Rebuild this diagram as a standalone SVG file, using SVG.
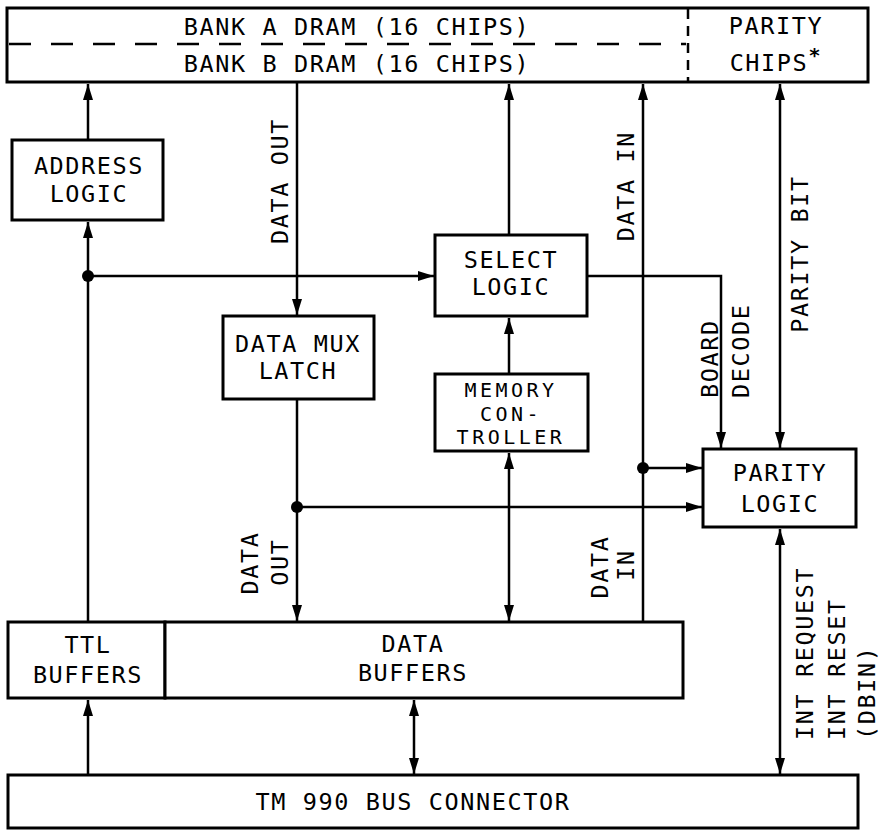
<svg xmlns="http://www.w3.org/2000/svg" width="884" height="832" viewBox="0 0 884 832">
<defs>
<marker id="ah" viewBox="0 0 16 10" refX="16" refY="5" markerWidth="16" markerHeight="10" markerUnits="userSpaceOnUse" orient="auto-start-reverse"><path d="M0,0 L16,5 L0,10 z" fill="#000"/></marker>
</defs>
<style>
.box{fill:#fff;stroke:#000;stroke-width:3}
.ln{fill:none;stroke:#000;stroke-width:2.5}
.ar{marker-end:url(#ah)}
.bi{marker-start:url(#ah);marker-end:url(#ah)}
.dot{fill:#000}
.t{font-family:"DejaVu Sans Mono","Liberation Mono",monospace;font-size:23.5px;letter-spacing:1.6px;fill:#000;text-anchor:middle}
.m{font-size:20px;letter-spacing:3.5px}
.s{text-anchor:start}
</style>
<rect width="884" height="832" fill="#fff"/>

<g id="dram">
<rect class="box" x="7" y="8" width="861" height="74"/>
<line x1="9" y1="44" x2="686" y2="44" stroke="#000" stroke-width="2.5" stroke-dasharray="22 20"/>
<line x1="688" y1="9" x2="688" y2="81" stroke="#000" stroke-width="2.5" stroke-dasharray="10 7"/>
<text class="t" x="357" y="35">BANK A DRAM (16 CHIPS)</text>
<text class="t" x="357" y="72">BANK B DRAM (16 CHIPS)</text>
<text class="t" x="776" y="34">PARITY</text>
<text class="t" x="769" y="71">CHIPS</text>
<text class="t s" x="808.5" y="62" style="font-size:20px;font-weight:bold">*</text>
</g>

<g id="address-logic">
<rect class="box" x="12" y="140" width="151" height="80"/>
<text class="t" x="89" y="174">ADDRESS</text>
<text class="t" x="89" y="202">LOGIC</text>
</g>

<g id="select-logic">
<rect class="box" x="435" y="235" width="152" height="81"/>
<text class="t" x="511" y="268">SELECT</text>
<text class="t" x="511" y="295">LOGIC</text>
</g>

<g id="data-mux-latch">
<rect class="box" x="223" y="316" width="151" height="83"/>
<text class="t" x="298" y="352">DATA MUX</text>
<text class="t" x="298" y="379">LATCH</text>
</g>

<g id="memory-controller">
<rect class="box" x="435" y="374" width="153" height="77"/>
<text class="t m" x="511" y="397">MEMORY</text>
<text class="t m" x="511" y="420.5">CON-</text>
<text class="t m" x="511" y="444">TROLLER</text>
</g>

<g id="parity-logic">
<rect class="box" x="703" y="449" width="153" height="78"/>
<text class="t" x="780" y="481">PARITY</text>
<text class="t" x="780" y="512">LOGIC</text>
</g>

<g id="ttl-buffers">
<rect class="box" x="8" y="622" width="157" height="76"/>
<text class="t" x="88" y="653">TTL</text>
<text class="t" x="88" y="683">BUFFERS</text>
</g>

<g id="data-buffers">
<rect class="box" x="165" y="622" width="518" height="76"/>
<text class="t" x="413" y="652">DATA</text>
<text class="t" x="413" y="681">BUFFERS</text>
</g>

<g id="bus-connector">
<rect class="box" x="8" y="775" width="850" height="53"/>
<text class="t" x="413" y="810">TM 990 BUS CONNECTOR</text>
</g>

<g id="connectors">
<path class="ln ar" d="M88,140 V84"/>
<path class="ln ar" d="M88,622 V222"/>
<path class="ln ar" d="M88,276 H434"/>
<path class="ln ar" d="M297,82 V315"/>
<path class="ln ar" d="M297,399 V621"/>
<path class="ln ar" d="M297,507 H702"/>
<path class="ln ar" d="M509,235 V84"/>
<path class="ln ar" d="M509,374 V318"/>
<path class="ln bi" d="M509,453 V621"/>
<path class="ln ar" d="M643,622 V84"/>
<path class="ln ar" d="M643,468 H702"/>
<path class="ln ar" d="M587,276 H721 V448"/>
<path class="ln bi" d="M780,84 V448"/>
<path class="ln bi" d="M780,529 V774"/>
<path class="ln ar" d="M88,775 V700"/>
<path class="ln bi" d="M414,700 V774"/>
<circle class="dot" cx="88" cy="276" r="6"/>
<circle class="dot" cx="297" cy="507" r="6"/>
<circle class="dot" cx="643" cy="468" r="6"/>
<text class="t" transform="translate(288,181) rotate(-90)">DATA OUT</text>
<text class="t" transform="translate(634,186) rotate(-90)">DATA IN</text>
<text class="t" transform="translate(808,254) rotate(-90)">PARITY BIT</text>
<text class="t s" transform="translate(718,398) rotate(-90)">BOARD</text>
<text class="t s" transform="translate(749,398) rotate(-90)">DECODE</text>
<text class="t" transform="translate(258,563) rotate(-90)">DATA</text>
<text class="t" transform="translate(288,562) rotate(-90)">OUT</text>
<text class="t" transform="translate(608,567) rotate(-90)">DATA</text>
<text class="t" transform="translate(634,565) rotate(-90)">IN</text>
<text class="t s" transform="translate(813,740) rotate(-90)">INT REQUEST</text>
<text class="t s" transform="translate(845,740) rotate(-90)">INT RESET</text>
<text class="t s" transform="translate(875,740) rotate(-90)">(DBIN)</text>
</g>
</svg>
